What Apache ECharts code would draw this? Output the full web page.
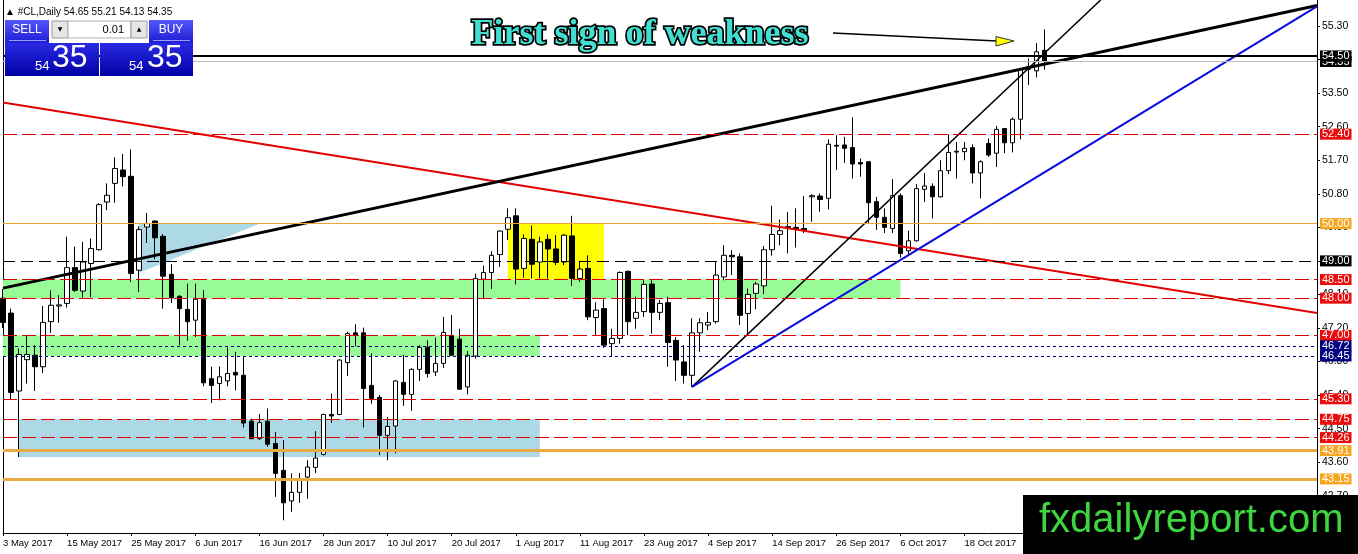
<!DOCTYPE html>
<html><head><meta charset="utf-8">
<script src="https://cdn.jsdelivr.net/npm/echarts@6/dist/echarts.min.js"></script>
<style>html,body{margin:0;padding:0;background:#fff}#c{width:1358px;height:554px}</style>
</head><body><div id="c"></div>
<script>
// ---- data ----
const opens  = [48.00,47.60,45.51,46.35,46.47,46.16,47.37,47.79,47.86,48.82,48.19,48.93,49.30,50.58,51.08,51.44,51.27,48.75,49.91,50.07,49.66,48.64,48.05,47.70,47.41,47.97,45.84,45.71,45.78,46.01,45.93,44.70,44.23,44.70,44.10,43.38,42.56,42.79,43.20,43.46,43.81,44.88,44.88,46.27,47.07,47.07,45.66,45.34,44.32,44.57,45.74,45.42,46.09,46.68,46.02,46.25,46.99,46.90,45.62,46.45,48.51,48.69,49.17,49.85,50.21,48.80,49.58,48.97,49.58,49.32,48.97,49.67,48.53,48.80,47.48,47.72,46.78,46.92,48.72,47.46,47.64,48.38,47.62,47.88,46.87,46.29,45.93,47.07,47.28,47.37,48.57,49.15,49.11,47.59,48.13,48.33,49.30,49.71,49.90,49.90,49.87,50.72,50.74,50.68,52.10,52.11,52.04,51.64,51.66,50.59,50.17,49.87,50.75,49.27,49.54,50.92,51.00,50.72,51.42,51.92,51.93,52.04,51.36,52.15,51.89,52.55,52.17,52.80,54.14,54.10,54.65];
const closes = [47.35,45.47,46.49,46.49,46.16,47.35,47.81,47.82,48.82,48.21,48.97,49.33,50.51,50.76,51.48,51.26,48.66,49.84,50.00,49.62,48.59,48.01,47.72,47.37,47.97,45.73,45.66,45.89,45.98,45.94,44.65,44.23,44.66,44.08,43.30,42.51,42.79,43.14,43.47,43.71,44.88,44.84,46.34,47.05,47.01,45.58,45.31,44.32,44.56,45.78,45.42,46.09,46.68,45.98,46.25,47.08,46.47,45.56,46.47,48.53,48.69,49.15,49.80,50.16,48.78,49.60,48.91,49.51,49.32,48.96,49.69,48.53,48.78,47.50,47.68,46.74,46.92,48.69,47.37,47.62,48.37,47.62,47.86,46.81,46.34,45.93,47.07,47.34,47.35,48.62,49.15,49.11,47.54,48.10,48.38,49.30,49.71,49.81,49.92,49.85,49.83,50.75,50.65,52.13,52.08,52.02,51.60,51.60,50.56,50.17,49.90,50.75,49.20,49.54,50.94,51.01,50.72,51.42,51.91,51.94,52.02,51.36,51.66,51.84,52.53,52.17,52.80,54.14,54.21,54.61,54.35];
const lows   = [47.20,45.28,43.74,45.71,45.51,45.99,47.07,47.34,47.75,48.17,48.02,48.03,49.28,50.36,50.56,51.00,48.44,48.17,49.48,49.04,47.72,47.87,46.74,46.86,46.96,45.64,45.19,45.26,45.64,45.53,44.53,44.22,44.20,44.01,42.67,42.04,42.27,42.51,42.62,43.31,43.78,44.65,44.86,45.91,46.71,44.53,45.17,43.79,43.65,43.84,45.11,44.98,45.78,45.87,45.91,46.13,46.45,45.54,45.42,46.38,47.97,48.25,48.84,49.56,48.37,48.55,48.53,48.53,48.53,48.89,48.89,48.33,48.44,47.41,47.01,46.67,46.42,46.78,47.01,47.18,47.50,47.05,47.41,46.16,45.78,45.71,45.62,46.56,47.14,47.32,48.48,48.62,47.28,47.01,47.70,48.11,49.14,49.42,49.20,49.36,49.75,50.05,50.32,50.38,51.44,51.63,51.21,51.26,50.00,49.83,49.75,49.75,49.09,49.13,49.52,50.58,50.14,50.70,51.33,51.21,51.70,51.08,50.68,51.79,51.52,51.89,51.91,52.26,53.72,53.92,54.13];
const highs  = [48.25,47.72,46.65,46.98,46.74,47.79,48.21,48.08,49.65,49.38,49.51,49.60,50.55,51.08,51.78,51.87,51.99,49.93,50.29,50.09,49.72,48.91,48.08,48.39,48.39,48.21,46.16,46.17,46.68,46.56,46.44,44.77,44.89,45.04,44.41,44.19,43.30,43.31,43.65,44.43,44.90,45.44,46.36,47.10,47.30,47.21,46.52,45.40,44.81,45.80,46.48,46.12,46.74,46.87,46.94,47.50,47.55,47.18,46.58,48.66,48.87,49.26,49.82,50.41,50.41,49.71,49.95,49.65,49.71,49.69,49.72,50.21,49.00,49.15,47.89,47.97,47.18,48.72,48.74,48.04,48.48,48.48,47.95,48.04,46.96,46.74,47.46,47.46,47.63,48.97,49.42,49.29,49.20,48.26,48.44,49.40,50.48,50.11,50.31,50.41,50.74,50.79,50.81,52.26,52.37,52.33,52.85,51.75,51.68,50.72,50.41,51.19,50.81,49.81,51.06,51.36,51.08,51.70,52.39,52.19,52.19,52.13,51.70,52.29,52.62,52.57,52.85,54.16,54.43,54.84,55.21];
const firstDate = [2017, 5, 3];      // first bar: 3 May 2017, daily bars Mon-Fri
const emptyBarsRight = 34;
const yTicks = [42.70,43.60,44.50,45.40,46.30,47.20,48.10,49.00,49.90,50.80,51.70,52.60,53.50,54.40,55.30];
const yRange = [41.70, 56.00];

const redLevels = [52.40,48.50,48.00,47.00,45.30,44.75,44.26];
const blackSolidLevels = [54.50];
const bidLevels = [54.35];
const blackDashLevels = [49.00];
const navyLevels = [46.72,46.45];
const orangeThinLevels = [50.00];
const orangeThickLevels = [43.91,43.15];

// zones: [startBar, priceA, endBar, priceB]
const greenZones = [[0,48.50,112,48.00],[0,47.00,67,46.45]];
const blueZones = [[2,44.75,67,43.74]];
const yellowZones = [[63,50.00,75,48.50]];
const blueTriangle = [[17,50.00],[32,50.00],[17,48.68]];

const trendRed = [[0,53.25],[164,47.60]];
const trendBlackThick = [[0,48.27],[164,55.85]];
const trendBlackThin = [[86,45.62],[137,56.00]];
const trendBlue = [[86,45.62],[164,55.83]];

const titleText = 'First sign of weakness';
const symbolName = '#CL,Daily';
const siteName = 'fxdailyreport.com';

// ---- build ----
const MON = ['Jan','Feb','Mar','Apr','May','Jun','Jul','Aug','Sep','Oct','Nov','Dec'];
const N = opens.length;
const cats = [];
let t = Date.UTC(firstDate[0], firstDate[1]-1, firstDate[2]);
while (cats.length < N) {
  const d = new Date(t); const wd = d.getUTCDay();
  if (wd !== 0 && wd !== 6) cats.push(d.getUTCDate()+' '+MON[d.getUTCMonth()]+' '+d.getUTCFullYear());
  t += 86400000;
}
for (let i=0;i<emptyBarsRight;i++) cats.push('');
const candles = opens.map((o,i)=>[o, closes[i], lows[i], highs[i]]);

const FONT = '"Liberation Sans","DejaVu Sans",sans-serif';
function lvl(v, color, type, width, bg){
  return {yAxis:v, lineStyle:{color:color, type:type, width:width},
    label:{backgroundColor:bg, formatter:v.toFixed(2)}};
}
const markLines = []
  .concat(bidLevels.map(v=>lvl(v,'#bdbdbd','solid',1,'#000')))
  .concat(blackSolidLevels.map(v=>lvl(v,'#000','solid',2,'#000')))
  .concat(blackDashLevels.map(v=>lvl(v,'#000',[12,6],1,'#000')))
  .concat(redLevels.map(v=>lvl(v,'#e00000',[14,5],1,'#e80c0c')))
  .concat(navyLevels.map(v=>lvl(v,'#000080',[3,3],1,'#000080')))
  .concat(orangeThinLevels.map(v=>lvl(v,'#f2a22a','solid',1,'#f7a51e')))
  .concat(orangeThickLevels.map(v=>lvl(v,'#e9ab45','solid',3,'#f7a51e')));

function zone(z, color){
  return [{xAxis:cats[z[0]], yAxis:z[1], itemStyle:{color:color, opacity:1}}, {xAxis:cats[z[2]], yAxis:z[3]}];
}
const areas = [].concat(
  blueZones.map(z=>zone(z,'#add8e6')),
  greenZones.map(z=>zone(z,'#98fb98')),
  yellowZones.map(z=>zone(z,'#ffff00')));

function trend(data, color, width){
  return {type:'line', data:data, symbol:'none', silent:true, animation:false, z:4,
    lineStyle:{color:color, width:width}, clip:true};
}

const last = N-1;
const bid = closes[last].toFixed(2).split('.');
const hdr = '\u25B2 ' + symbolName + ' ' + [opens[last],highs[last],lows[last],closes[last]].map(v=>v.toFixed(2)).join(' ');

const chart = echarts.init(document.getElementById('c'), null, {renderer:'canvas'});
const btnGrad = ()=>new echarts.graphic.LinearGradient(0,0,0,1,[{offset:0,color:'#5656ff'},{offset:1,color:'#1c1cd2'}]);
const bigGrad = ()=>new echarts.graphic.LinearGradient(0,0,0,1,[{offset:0,color:'#2a2ae6'},{offset:1,color:'#0000a4'}]);
const Z = 100;
chart.setOption({
  animation:false,
  backgroundColor:'#ffffff',
  grid:{left:3, right:41, top:0, bottom:21, containLabel:false},
  xAxis:{type:'category', data:cats, boundaryGap:false,
    axisLine:{show:true, onZero:false, lineStyle:{color:'#000', width:1}},
    axisTick:{show:true, length:3, interval:(i,v)=>i%8===0 && v!=='', lineStyle:{color:'#000'}},
    axisLabel:{interval:(i,v)=>i%8===0 && v!=='', align:'left', color:'#000', fontSize:9.5, fontFamily:FONT, margin:5},
    splitLine:{show:false}},
  yAxis:[{type:'value', position:'right', min:yRange[0], max:yRange[1],
      axisLine:{show:true, onZero:false, lineStyle:{color:'#000'}},
      axisTick:{show:true, length:3, customValues:yTicks, lineStyle:{color:'#000'}},
      axisLabel:{customValues:yTicks, formatter:v=>v.toFixed(2), color:'#000', fontSize:10.5, fontFamily:FONT, margin:5},
      splitLine:{show:false}},
    {type:'value', position:'left', min:yRange[0], max:yRange[1],
      axisLine:{show:true, onZero:false, lineStyle:{color:'#000'}},
      axisTick:{show:false}, axisLabel:{show:false}, splitLine:{show:false}}],
  series:[
    {type:'custom', silent:true, z:1, data:[[0]],
      renderItem:(params, api)=>({type:'polygon', shape:{points:blueTriangle.map(p=>api.coord(p))}, style:{fill:'#add8e6'}})},
    {type:'candlestick', data:candles, barWidth:5, silent:true, z:2,
      itemStyle:{color:'#ffffff', color0:'#000000', borderColor:'#000000', borderColor0:'#000000', borderWidth:1},
      markArea:{silent:true, data:areas},
      markLine:{silent:true, symbol:['none','none'], animation:false,
        label:{show:true, position:'end', color:'#fff', fontSize:11, fontFamily:FONT, padding:[1,2,0,2], lineHeight:10, distance:3},
        data:markLines}},
    trend(trendRed,'#e00000',2),
    trend(trendBlackThick,'#000',3),
    trend(trendBlackThin,'#000',1.5),
    trend(trendBlue,'#0a0ae0',2)
  ],
  graphic:[
    {type:'text', x:5, y:12, z:Z, style:{text:hdr, fill:'#000', font:'10px '+FONT, verticalAlign:'middle'}},
    {type:'rect', z:Z, shape:{x:5,y:20,width:44,height:23}, style:{fill:btnGrad()}},
    {type:'line', z:Z, shape:{x1:9,y1:40.5,x2:46,y2:40.5}, style:{stroke:'#9a9aff', lineWidth:1}},
    {type:'text', z:Z, x:27, y:30, style:{text:'SELL', fill:'#fff', font:'12px '+FONT, align:'center', verticalAlign:'middle'}},
    {type:'rect', z:Z, shape:{x:52,y:21,width:16,height:17}, style:{fill:'#e6e6e6', stroke:'#9a9a9a', lineWidth:1}},
    {type:'text', z:Z, x:60, y:29.5, style:{text:'\u25BC', fill:'#000', font:'6px "DejaVu Sans"', align:'center', verticalAlign:'middle'}},
    {type:'rect', z:Z, shape:{x:68,y:21,width:63,height:17}, style:{fill:'#fff', stroke:'#b0b0b0', lineWidth:1}},
    {type:'text', z:Z, x:124, y:30, style:{text:'0.01', fill:'#000', font:'11px '+FONT, align:'right', verticalAlign:'middle'}},
    {type:'rect', z:Z, shape:{x:131,y:21,width:16,height:17}, style:{fill:'#e6e6e6', stroke:'#9a9a9a', lineWidth:1}},
    {type:'text', z:Z, x:139, y:29.5, style:{text:'\u25B2', fill:'#000', font:'6px "DejaVu Sans"', align:'center', verticalAlign:'middle'}},
    {type:'rect', z:Z, shape:{x:149,y:20,width:44,height:23}, style:{fill:btnGrad()}},
    {type:'line', z:Z, shape:{x1:153,y1:40.5,x2:190,y2:40.5}, style:{stroke:'#9a9aff', lineWidth:1}},
    {type:'text', z:Z, x:171, y:30, style:{text:'BUY', fill:'#fff', font:'12px '+FONT, align:'center', verticalAlign:'middle'}},
    {type:'rect', z:Z, shape:{x:5,y:43,width:94,height:33}, style:{fill:bigGrad()}},
    {type:'rect', z:Z, shape:{x:100,y:43,width:93,height:33}, style:{fill:bigGrad()}},
    {type:'text', z:Z, x:35, y:66, style:{text:bid[0], fill:'#fff', font:'13px '+FONT, verticalAlign:'middle'}},
    {type:'text', z:Z, x:52, y:58, style:{text:bid[1], fill:'#fff', font:'32px '+FONT, verticalAlign:'middle'}},
    {type:'text', z:Z, x:129, y:66, style:{text:bid[0], fill:'#fff', font:'13px '+FONT, verticalAlign:'middle'}},
    {type:'text', z:Z, x:147, y:58, style:{text:bid[1], fill:'#fff', font:'32px '+FONT, verticalAlign:'middle'}},
    {type:'text', z:Z, x:640, y:35, style:{text:titleText, fill:'#3fe0d2', stroke:'#000', lineWidth:3.5, font:'bold 36px "Liberation Serif","DejaVu Serif",serif', align:'center', verticalAlign:'middle'}},
    {type:'line', z:Z, shape:{x1:833,y1:33,x2:997,y2:41}, style:{stroke:'#000', lineWidth:1.5}},
    {type:'polygon', z:Z, shape:{points:[[996,36.5],[996,46],[1014,41]]}, style:{fill:'#ffff00', stroke:'#333', lineWidth:1}},
    {type:'rect', z:Z, shape:{x:1023,y:495,width:335,height:59}, style:{fill:'#000'}},
    {type:'text', z:Z, x:1039, y:521, style:{text:siteName, fill:'#3ed63e', font:'40px '+FONT, verticalAlign:'middle'}}
  ]
});
</script></body></html>
